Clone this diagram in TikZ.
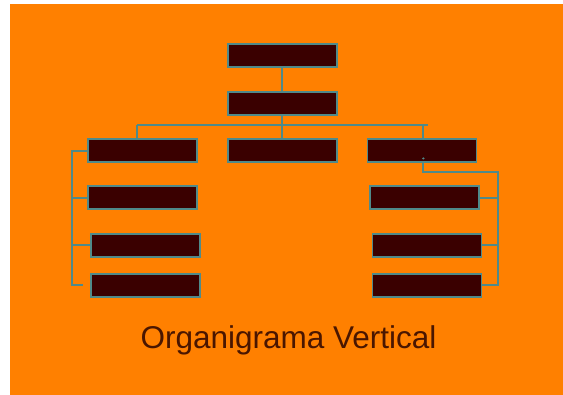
\documentclass[tikz,border=0pt]{standalone}
\usepackage{fontspec}
\setmainfont{Liberation Sans}
\definecolor{bgorange}{HTML}{FF8000}
\definecolor{boxfill}{HTML}{3A0000}
\definecolor{teal2}{HTML}{4F8A8A}
\definecolor{txtbrown}{HTML}{4A1600}
\begin{document}
\begin{tikzpicture}[x=1pt,y=-1pt,
  orgbox/.style={draw=teal2,fill=boxfill,line width=1.8pt,minimum width=109pt,minimum height=23pt,inner sep=0pt},
  link/.style={draw=teal2,line width=1.8pt}]
\useasboundingbox (0,0) rectangle (563,395);
\fill[white] (0,0) rectangle (563,395);
\fill[bgorange] (9.5,4) rectangle (563,395);
% boxes
\node[orgbox] (t) at (282.2,55.8) {};
\node[orgbox] (b) at (282.2,103.2) {};
\node[orgbox] (m) at (282.2,150.7) {};
\node[orgbox] (l1) at (142.8,150.7) {};
\node[orgbox] (l2) at (142.5,197.8) {};
\node[orgbox] (l3) at (145.3,245.2) {};
\node[orgbox] (l4) at (145.3,285.7) {};
\node[orgbox] (r1) at (422,150.7) {};
\node[orgbox] (r2) at (424.3,197.8) {};
\node[orgbox] (r3) at (427,245.2) {};
\node[orgbox] (r4) at (427,285.7) {};
% coordinates
\coordinate (busL) at (137.3,125);
\coordinate (busR) at (428.3,125);
\coordinate (lx) at (71.7,0);
\coordinate (rx) at (497.7,0);
% connectors
\draw[link] (t.south) -- (b.north);
\draw[link] (b.south) -- (m.north);
\draw[link] (busL) -- (busR);
\draw[link] (busL) -- (busL |- l1.north);
\draw[link] ([xshift=1.3pt]r1.north) -- ([xshift=1.3pt]r1.north |- busR);
% left chain
\draw[link] (l1.west) -- (lx |- l1.west) -- ([yshift=1pt]lx |- l4.center) -- ([xshift=-7pt,yshift=1pt]l4.center -| l4.west);
\draw[link] (lx |- l2.west) -- (l2.west);
\draw[link] (lx |- l3.west) -- (l3.west);
% right chain
\coordinate (rdot) at (423.3,158.5);
\fill[teal2] (rdot) circle (1.2pt);
\draw[link] ([xshift=1.3pt]r1.south) -- (423.3,171.7) -- (rx |- 0,171.7) -- ([yshift=1pt]rx |- r4.east) -- ([yshift=1pt]r4.east);
\draw[link] (rx |- r2.east) -- (r2.east);
\draw[link] (rx |- r3.east) -- (r3.east);
% title
\node[text=txtbrown,font=\fontsize{31.5}{36}\selectfont,inner sep=0pt] (title) at (288.5,340) {Organigrama Vertical};
\end{tikzpicture}
\end{document}
